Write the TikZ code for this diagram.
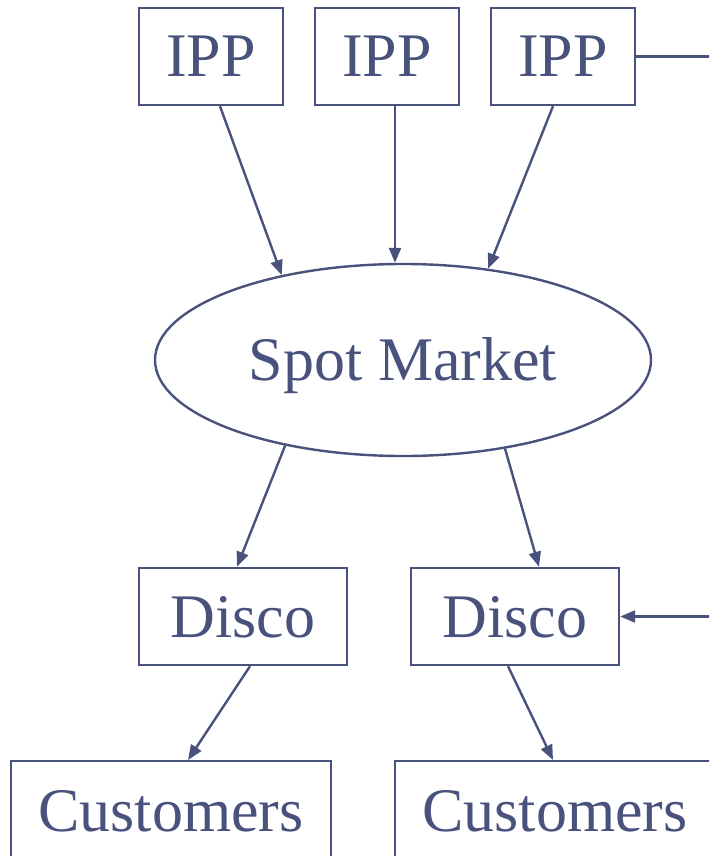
\documentclass[tikz,border=0pt]{standalone}
\usepackage{fontspec}
\setmainfont{Liberation Serif}
\usetikzlibrary{shapes.geometric,arrows.meta}
\definecolor{ink}{RGB}{72,82,125}
\tikzset{
  box/.style={draw=ink, line width=2.4pt, rectangle, inner sep=0pt, text=ink,
    font=\fontsize{62}{70}\selectfont, text height=41pt, text depth=0pt},
  conn/.style={draw=ink, line width=2.4pt, -{Triangle[length=15pt,width=12pt]}},
  plain/.style={draw=ink, line width=2.4pt}
}
\begin{document}
\begin{tikzpicture}[x=1pt,y=-1pt]
\clip (0,0) rectangle (709,856);
% IPP boxes
\node[box, minimum width=144pt, minimum height=97pt] (ipp1) at (211,56.5) {IPP};
\node[box, minimum width=144pt, minimum height=97pt] (ipp2) at (387,56.5) {IPP};
\node[box, minimum width=144pt, minimum height=97pt] (ipp3) at (563,56.5) {IPP};
% Spot market
\node[box, ellipse, minimum width=496pt, minimum height=192pt] (sm) at (403,360) {Spot Market};
% Discos
\node[box, minimum width=208pt, minimum height=97pt] (d1) at (243,616.5) {Disco};
\node[box, minimum width=208pt, minimum height=97pt] (d2) at (515,616.5) {Disco};
% Customers
\node[box, anchor=north, minimum width=320pt, inner ysep=0pt, text height=70pt, text depth=130pt] (c1) at (171,760) {Customers};
\node[box, anchor=north, minimum width=320pt, inner ysep=0pt, text height=70pt, text depth=130pt] (c2) at (555,760) {Customers};
% free ends on the right
\coordinate (r1) at (712,56.5);
\coordinate (r2) at (712,616.5);
% connectors
\draw[conn] ([xshift=9pt]ipp1.south) -- (sm.145.7);
\draw[conn] ([xshift=8pt]ipp2.south) -- ([xshift=-8pt]sm.north);
\draw[conn] ([xshift=-10pt]ipp3.south) -- (sm.47);
\draw[plain] (ipp3.east) -- (r1);
\draw[conn] (sm.216) -- ([xshift=-6pt]d1.north);
\draw[conn] (sm.319) -- ([xshift=24pt]d2.north);
\draw[conn] (r2) -- (d2.east);
\draw[conn] ([xshift=7pt]d1.south) -- ([xshift=17pt]c1.north);
\draw[conn] ([xshift=-7pt]d2.south) -- ([xshift=-2pt]c2.north);
\end{tikzpicture}
\end{document}
